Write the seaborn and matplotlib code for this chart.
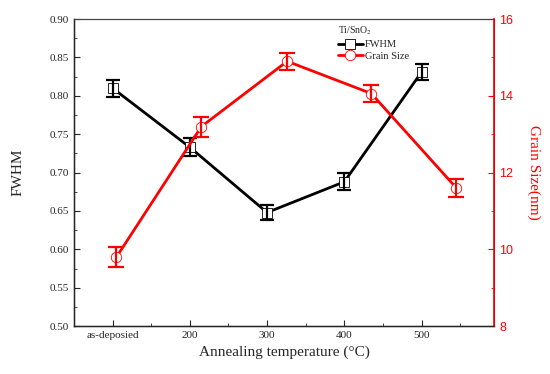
import numpy as np
import pandas as pd
import matplotlib
matplotlib.use('Agg')
import matplotlib.pyplot as plt
from matplotlib.ticker import MultipleLocator
import seaborn as sns

# FWHM series (left axis)
temp = [100, 200, 300, 400, 500]
temp_labels = ['as-deposied', '200', '300', '400', '500']
fwhm = [0.810, 0.733, 0.648, 0.688, 0.831]
fwhm_err = [0.011, 0.012, 0.010, 0.011, 0.010]

# Grain size series (right axis), plotted slightly offset in x as in the original
grain_x = [105, 215, 326, 435, 545]
grain = [9.80, 13.20, 14.90, 14.06, 11.60]
grain_err = [0.25, 0.26, 0.22, 0.22, 0.24]

sns.set_style('ticks')
plt.rcParams['font.family'] = ['Liberation Serif', 'DejaVu Serif']
plt.rcParams['mathtext.fontset'] = 'stix'

df1 = pd.DataFrame({'x': temp, 'y': fwhm})
df2 = pd.DataFrame({'x': grain_x, 'y': grain})

fig = plt.figure(figsize=(5.5, 3.74), dpi=100)
ax = fig.add_axes([0.1345, 0.128, 0.764, 0.821])
ax2 = ax.twinx()

sns.lineplot(data=df1, x='x', y='y', ax=ax, color='black', lw=2, marker='s',
             markersize=6.5, markerfacecolor='white', markeredgecolor='black',
             markeredgewidth=0.6, label='FWHM', legend=False)
ax.errorbar(temp, fwhm, yerr=fwhm_err, fmt='none', ecolor='black',
            elinewidth=1.6, capsize=5, capthick=1.6)

sns.lineplot(data=df2, x='x', y='y', ax=ax2, color='red', lw=2, marker='o',
             markersize=7.5, markerfacecolor='white', markeredgecolor='red',
             markeredgewidth=0.6, label='Grain Size', legend=False)
ax2.errorbar(grain_x, grain, yerr=grain_err, fmt='none', ecolor='red',
             elinewidth=1.6, capsize=6, capthick=1.6)

ax.set_xlim(50, 594)
ax.set_ylim(0.50, 0.90)
ax2.set_ylim(8, 16)

ax.set_xticks(temp)
ax.set_xticklabels(temp_labels)
ax.xaxis.set_minor_locator(MultipleLocator(50))
ax.yaxis.set_major_locator(MultipleLocator(0.05))
ax.yaxis.set_minor_locator(MultipleLocator(0.025))
ax.yaxis.set_major_formatter(matplotlib.ticker.FormatStrFormatter('%.2f'))
ax2.yaxis.set_major_locator(MultipleLocator(2))
ax2.yaxis.set_minor_locator(MultipleLocator(1))

ax.tick_params(which='both', direction='in', labelsize=8, top=False)
ax.tick_params(which='major', length=4)
ax.tick_params(which='minor', length=2.5)
ax2.tick_params(which='both', direction='in', colors='red', labelsize=9)
ax2.tick_params(which='major', length=4)
ax2.tick_params(which='minor', length=2.5)
for t in ax2.get_yticklabels():
    t.set_family('Liberation Sans')

for s in ['left', 'bottom']:
    ax.spines[s].set_color('black')
    ax.spines[s].set_linewidth(1.0)
ax2.spines['right'].set_color('red')
ax2.spines['right'].set_linewidth(1.2)
ax2.spines['top'].set_color('#444444')
ax.spines['top'].set_color('#444444')

ax.set_xlabel('Annealing temperature (°C)', fontsize=11)
ax.set_ylabel('FWHM', fontsize=11, labelpad=18)
ax2.set_ylabel('Grain Size(nm)', fontsize=11, color='red', rotation=270, labelpad=20)

h1, l1 = ax.get_legend_handles_labels()
h2, l2 = ax2.get_legend_handles_labels()
leg = ax2.legend(h1 + h2, l1 + l2, title='Ti/SnO$_2$', loc='upper left',
                 bbox_to_anchor=(0.61, 1.005), frameon=False, fontsize=7.5,
                 title_fontsize=7, handlelength=2.4, handletextpad=0.2,
                 labelspacing=0.25, borderaxespad=0.3)
leg._legend_box.align = 'left'

fig.savefig('out.png', dpi=100)
